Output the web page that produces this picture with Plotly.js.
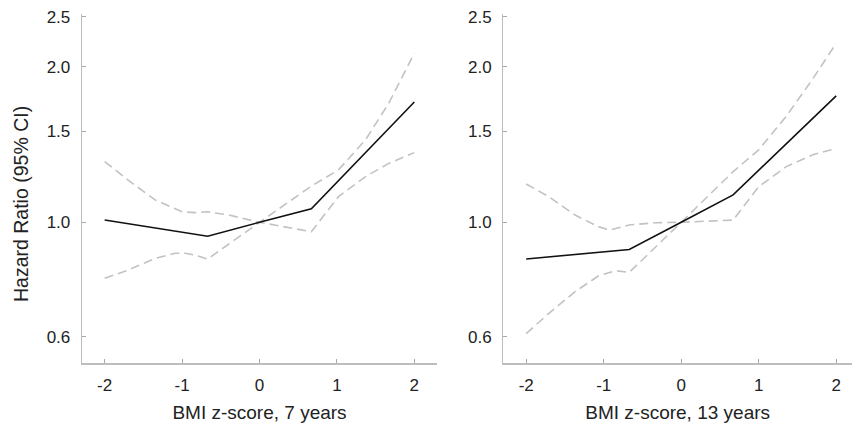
<!DOCTYPE html>
<html>
<head>
<meta charset="utf-8">
<script src="https://cdn.plot.ly/plotly-3.0.1.min.js"></script>
<style>
html,body{margin:0;padding:0;background:#fff;}
#chart{width:852px;height:425px;}
</style>
</head>
<body>
<div id="chart"></div>
<script>
// ---- data ----
const estX = [-2, -0.67, 0, 0.67, 2];

// Panel 1: BMI z-score, 7 years
const est7 = [1.01, 0.94, 1.0, 1.062, 1.709];
const upper7X = [-2, -1.7, -1.35, -1.0, -0.83, -0.67, -0.4, 0, 0.67, 1.02, 1.37, 1.67, 2];
const upper7 = [1.311, 1.208, 1.105, 1.048, 1.044, 1.048, 1.033, 1.0, 1.175, 1.263, 1.444, 1.70, 2.125];
const lower7X = [-2, -1.7, -1.35, -1.09, -0.96, -0.83, -0.67, 0, 0.67, 1.02, 1.37, 1.67, 2];
const lower7 = [0.779, 0.808, 0.851, 0.871, 0.871, 0.864, 0.849, 1.0, 0.959, 1.121, 1.226, 1.30, 1.364];

// Panel 2: BMI z-score, 13 years
const est13 = [0.849, 0.886, 1.0, 1.13, 1.757];
const upper13X = [-2, -1.71, -1.37, -1.07, -0.92, -0.67, -0.33, 0, 0.67, 1.0, 1.35, 1.69, 2];
const upper13 = [1.186, 1.121, 1.033, 0.981, 0.966, 0.988, 0.998, 1.0, 1.253, 1.381, 1.60, 1.887, 2.22];
const lower13X = [-2, -1.71, -1.37, -1.07, -0.85, -0.67, 0, 0.67, 1.0, 1.35, 1.69, 2];
const lower13 = [0.609, 0.666, 0.734, 0.787, 0.806, 0.80, 1.0, 1.01, 1.172, 1.28, 1.35, 1.39];

const xTickVals = [-2, -1, 0, 1, 2];
const xTickText = ['-2', '-1', '0', '1', '2'];
const yTickVals = [0.6, 1.0, 1.5, 2.0, 2.5];
const yTickText = ['0.6', '1.0', '1.5', '2.0', '2.5'];
const xTitles = ['BMI z-score, 7 years', 'BMI z-score, 13 years'];
const yTitle = 'Hazard Ratio (95% CI)';

// ---- styling ----
const FONT = 'Liberation Sans, Arial, sans-serif';
const solid = {color: '#111111', width: 1.6};
const dashed = {color: '#c2c2c2', width: 1.6, dash: '9px,5px'};

function tr(x, y, line, xa, ya) {
  return {x: x, y: y, type: 'scatter', mode: 'lines', line: line,
          xaxis: xa, yaxis: ya, hoverinfo: 'skip', showlegend: false};
}

const data = [
  tr(upper7X, upper7, dashed, 'x', 'y'),
  tr(lower7X, lower7, dashed, 'x', 'y'),
  tr(estX, est7, solid, 'x', 'y'),
  tr(upper13X, upper13, dashed, 'x2', 'y2'),
  tr(lower13X, lower13, dashed, 'x2', 'y2'),
  tr(estX, est13, solid, 'x2', 'y2')
];

const yRange = [Math.log10(0.5335), Math.log10(2.53)];

function xAxis(domain, range, title, anchor) {
  return {
    domain: domain, range: range, anchor: anchor,
    tickvals: xTickVals, ticktext: xTickText,
    ticks: 'inside', ticklen: 4, tickcolor: '#a8a8a8', tickwidth: 1,
    showline: true, linecolor: '#bdbdbd', linewidth: 1.3,
    showgrid: false, zeroline: false,
    tickfont: {family: FONT, size: 17, color: '#222'},
    ticklabelstandoff: 6,
    title: {text: title, font: {family: FONT, size: 19, color: '#222'}, standoff: 11},
    automargin: false,
    fixedrange: true
  };
}
function yAxis(anchor) {
  return {
    domain: [0.1452, 0.9671], type: 'log', range: yRange, anchor: anchor,
    tickvals: yTickVals, ticktext: yTickText,
    ticks: 'inside', ticklen: 4, tickcolor: '#a8a8a8', tickwidth: 1,
    showline: true, linecolor: '#bdbdbd', linewidth: 1.3,
    showgrid: false, zeroline: false,
    tickfont: {family: FONT, size: 17, color: '#222'},
    ticklabelstandoff: 7,
    automargin: false,
    fixedrange: true
  };
}

const layout = {
  width: 852, height: 425,
  margin: {l: 0, r: 0, t: 0, b: 0, autoexpand: false},
  paper_bgcolor: '#ffffff', plot_bgcolor: '#ffffff',
  showlegend: false,
  xaxis: xAxis([82/852, 437/852], [-2.293, 2.293], xTitles[0], 'y'),
  yaxis: yAxis('x'),
  xaxis2: xAxis([503.3/852, 1], [-2.2955, 2.204], xTitles[1], 'y2'),
  yaxis2: yAxis('x2'),
  annotations: [{
    text: yTitle, textangle: -90, showarrow: false,
    xref: 'paper', yref: 'paper',
    x: 21/852, y: 1 - 204/425, xanchor: 'center', yanchor: 'middle',
    font: {family: FONT, size: 19.5, color: '#222'}
  }]
};

Plotly.newPlot('chart', data, layout, {staticPlot: true, displayModeBar: false});
</script>
</body>
</html>
